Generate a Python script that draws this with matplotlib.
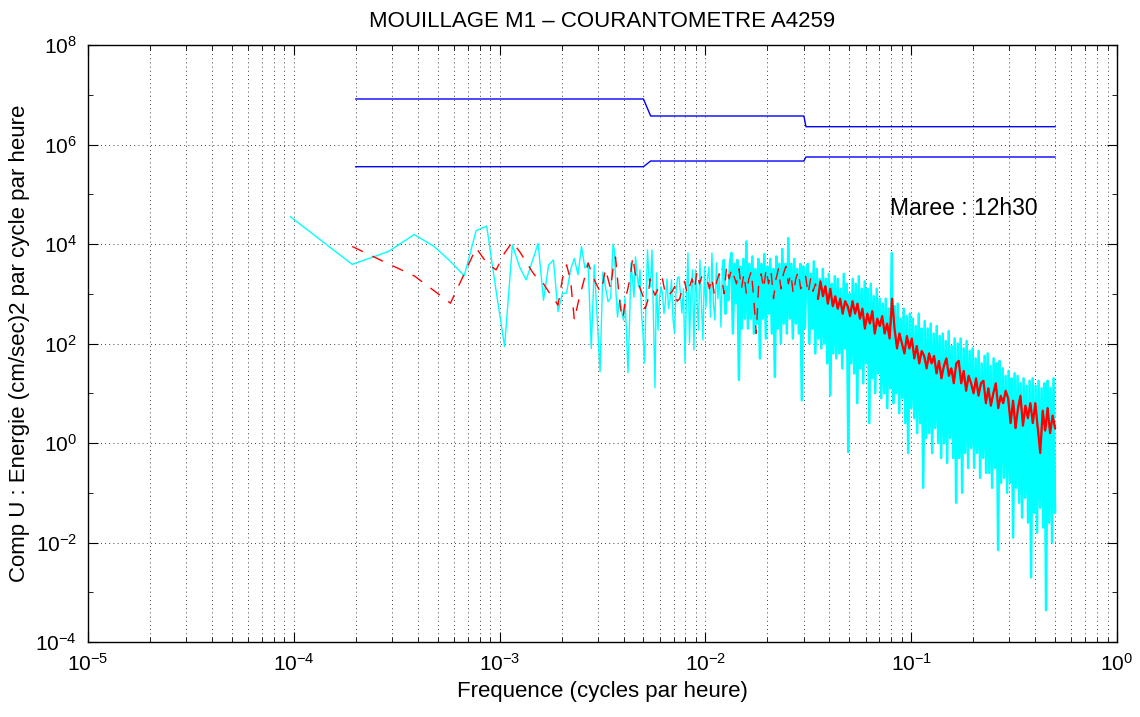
import numpy as np
import matplotlib
matplotlib.use("Agg")
import matplotlib.pyplot as plt
from matplotlib.ticker import LogLocator, FuncFormatter, NullFormatter

# ---------------- data (log10 of energy) ----------------
record_hours = 10400  # frequency step = 1 / record_hours (cycles per hour)

# raw spectrum, harmonics k = 1..36
cyan_low_log = [4.55, 3.59, 3.85, 4.19, 3.95, 3.65, 3.36, 4.27, 4.36, 3.06,
                1.94, 3.98, 3.54, 3.28, 3.66, 4.01, 2.87, 3.58, 3.68, 2.64,
                3.01, 3.01, 3.48, 3.71, 3.38, 3.95, 3.52, 3.61, 1.90, 3.58,
                2.50, 1.43, 3.44, 3.14, 2.84, 2.91]

# raw spectrum, from harmonic 37 up to 0.5 cph (log-spaced samples)
cyan_high_log = [
    4.0, 3.85, 3.0, 2.53, 2.8, 2.87, 2.6, 2.47, 2.93, 2.2,
    1.41, 2.4, 3.62, 3.3, 2.93, 3.74, 3.4, 3.14, 3.48, 2.61,
    2.2, 1.61, 2.8, 3.88, 3.3, 3.14, 3.88, 2.5, 1.11, 3.42,
    2.27, 2.9, 3.14, 3.0, 2.6, 2.87, 3.3, 2.7, 2.87, 3.28,
    2.5, 2.21, 3.0, 3.32, 3.34, 3.0, 2.61, 3.1, 1.61, 2.9,
    3.82, 2.01, 3.0, 3.48, 1.87, 3.48, 2.9, 2.27, 3.68, 2.81,
    2.07, 3.54, 2.73, 3.3, 3.54, 2.53, 3.82, 2.8, 2.47, 3.62,
    2.9, 3.4, 2.33, 3.5, 3.68, 2.6, 3.14, 2.87, 3.6, 3.82,
    2.2, 3.6, 2.81, 3.68, 1.27, 3.54, 2.3, 3.7, 2.5, 4.05,
    2.3, 3.6, 2.5, 3.75, 2.2, 3.5, 2.4, 3.7, 1.7, 3.6,
    2.5, 3.8, 2.1, 3.55, 2.6, 3.7, 2.2, 3.5, 1.33, 3.75,
    2.3, 3.6, 2.0, 3.9, 2.4, 3.6, 2.2, 4.12, 2.5, 3.6,
    2.1, 3.7, 2.4, 3.5, 2.2, 3.6, 0.86, 3.55, 2.3, 3.4,
    3.6, 2.0, 3.4, 2.3, 3.65, 1.8, 3.5, 2.1, 3.3, 1.9,
    3.5, 2.0, 3.3, 1.6, 3.4, 0.96, 3.2, 1.8, 3.35, 1.7,
    3.3, 1.8, 3.1, 1.5, 3.4, 1.9, 3.2, -0.18, 3.0, 1.6,
    3.3, 1.4, 3.2, 0.8, 3.35, 1.5, 3.1, 1.2, 3.25, 1.6,
    3.1, 0.4, 3.2, 1.3, 2.95, 1.0, 3.1, 1.4, 2.9, 0.9,
    2.8, 1.0, 2.9, 0.7, 2.7, 1.1, 3.82, 0.8, 2.75, 1.0,
    2.8, 0.6, 2.5, 0.9, 2.7, 0.4, 2.55, -0.2, 2.6, 0.7,
    2.5, 0.5, 2.35, 0.2, 2.6, 0.4, 2.3, -0.9, 2.45, 0.1,
    2.3, 0.2, 2.4, -0.2, 2.2, 0.3, 2.35, 0.0, 2.15, -0.3,
    2.2, 0.0, 2.05, -0.4, 2.25, 0.1, 1.95, -0.3, 2.1, -1.2,
    2.0, -0.3, 2.1, -1.0, 1.9, -0.2, 2.05, -0.5, 1.85, -0.1,
    1.9, -0.5, 1.7, -0.2, 1.85, -0.7, 1.6, -0.3, 1.75, -0.6,
    1.8, -0.6, 1.55, -0.9, 1.7, -0.5, 1.6, -2.15, 1.65, -0.8,
    1.5, -0.7, 1.35, -1.0, 1.45, -0.8, 1.3, -1.9, 1.4, -0.9,
    1.35, -1.2, 1.2, -1.5, 1.3, -1.1, 1.15, -1.6, 1.25, -2.7,
    1.3, -1.4, 1.15, -1.8, 1.25, -1.3, 1.1, -1.7, 1.2, -3.36,
    1.25, -1.6, 1.1, -2.0, 1.3, -1.4]

# smoothed spectrum, harmonics k = 2..36
red_low_log = [3.95, 3.60, 3.36, 3.06, 2.81, 3.40, 3.92, 3.62, 3.48, 3.82,
               4.04, 3.85, 3.64, 3.44, 3.28, 3.20, 3.04, 2.91, 2.77, 3.30,
               3.58, 3.28, 2.47, 2.81, 3.08, 3.34, 3.62, 3.45, 3.28, 3.16,
               3.04, 3.2, 3.5, 3.3, 3.1]

# smoothed spectrum, from harmonic 37 up to 0.5 cph (log-spaced samples)
red_high_log = [
    3.5, 3.74, 3.2, 2.7, 2.5, 2.9, 3.1, 3.35, 3.74, 3.4,
    3.28, 3.1, 2.97, 2.7, 2.85, 3.3, 3.1, 2.97, 3.08, 3.2,
    3.3, 3.05, 2.95, 3.0, 3.05, 3.15, 2.85, 2.9, 3.1, 3.25,
    3.0, 3.15, 3.3, 3.1, 3.45, 3.2, 3.35, 3.3, 3.32, 3.1,
    3.32, 3.0, 3.25, 3.4, 3.3, 3.0, 3.55, 3.3, 3.5, 3.35,
    3.2, 3.5, 3.1, 3.4, 3.0, 3.3, 3.45, 2.9, 2.2, 3.2,
    3.4, 3.1, 3.5, 3.2, 3.45, 2.9, 3.3, 3.5, 3.1, 3.4,
    3.55, 3.2, 3.4, 3.0, 3.3, 3.45, 3.1, 3.2, 3.35, 3.0,
    3.3, 3.05, 3.2, 2.9, 3.25, 2.95, 3.15, 2.8, 3.1, 2.75,
    2.95, 2.7, 2.9, 2.6, 2.85, 2.75, 2.55, 2.85, 2.6, 2.8,
    2.5, 2.7, 2.3, 2.6, 2.4, 2.65, 2.2, 2.5, 2.35, 2.55,
    2.2, 2.4, 2.1, 2.9, 2.3, 1.9, 2.2, 2.0, 1.8, 2.15,
    1.9, 2.1, 1.7, 1.95, 1.6, 1.85, 1.75, 1.5, 1.8, 1.6,
    1.75, 1.4, 1.65, 1.3, 1.55, 1.7, 1.35, 1.5, 1.2, 1.6,
    1.65, 1.2, 1.45, 1.05, 1.35, 1.2, 1.0, 1.3, 0.95, 1.2,
    1.25, 0.8, 1.1, 0.75, 1.0, 1.2, 0.7, 0.95, 0.8, 1.05,
    0.9, 0.4, 0.85, 0.3, 0.7, 0.95, 0.35, 0.75, 0.5, 0.8,
    0.4, 0.8, 0.3, -0.2, 0.65, 0.25, 0.7, 0.2, 0.55, 0.3]

# confidence interval bounds
ci_freq = [2e-4, 5.0e-3, 5.42e-3, 0.0301, 0.0308, 0.5]
ci_upper_log = [6.915, 6.915, 6.573, 6.573, 6.358, 6.358]
ci_lower_log = [5.554, 5.554, 5.668, 5.668, 5.749, 5.749]

title_text = "MOUILLAGE M1 \u2013 COURANTOMETRE A4259"
xlabel_text = "Frequence (cycles par heure)"
ylabel_text = "Comp U : Energie (cm/sec)2 par cycle par heure"
note_text = "Maree : 12h30"
note_freq = 0.0791
note_level_log = 4.72

# frequencies above which the spectra are drawn as a dense band
dense_cyan_from = 0.012
dense_red_from = 0.035

# ---------------- figure ----------------
plt.rcParams["font.family"] = ["Liberation Sans", "DejaVu Sans"]
plt.rcParams["mathtext.default"] = "regular"

fig = plt.figure(figsize=(11.4, 7.17), dpi=100)
ax = fig.add_axes([88 / 1140, 1 - 642 / 717, (1117 - 88) / 1140, (642 - 45) / 717])
ax.set_xscale("log")
ax.set_yscale("log")

f_cyan = np.concatenate([np.arange(1, 37) / record_hours,
                         np.geomspace(37 / record_hours, 0.5, len(cyan_high_log))])
v_cyan = 10.0 ** np.array(cyan_low_log + cyan_high_log)
f_red = np.concatenate([np.arange(2, 37) / record_hours,
                        np.geomspace(37 / record_hours, 0.5, len(red_high_log))])
v_red = 10.0 ** np.array(red_low_log + red_high_log)

cyan = (0, 1, 1)
ax.plot(f_cyan, v_cyan, color=cyan, lw=1.0, zorder=3)
mc = f_cyan >= dense_cyan_from
ax.plot(f_cyan[mc], v_cyan[mc], color=cyan, lw=1.8, zorder=3)

ax.plot(f_red, v_red, color=(1, 0, 0), lw=1.0, linestyle=(0, (8.5, 7.5)), zorder=4)
mr = f_red >= dense_red_from
ax.plot(f_red[mr], v_red[mr], color=(1, 0, 0), lw=1.6, zorder=4)

ax.plot(ci_freq, 10.0 ** np.array(ci_upper_log), color=(0, 0, 1), lw=1.0, zorder=5)
ax.plot(ci_freq, 10.0 ** np.array(ci_lower_log), color=(0, 0, 1), lw=1.0, zorder=5)

ax.set_xlim(1e-5, 1)
ax.set_ylim(1e-4, 1e8)

ax.xaxis.set_major_locator(LogLocator(base=10, numticks=20))
ax.xaxis.set_minor_locator(LogLocator(base=10, subs=np.arange(2, 10), numticks=20))
ax.yaxis.set_major_locator(LogLocator(base=100, numticks=20))
ax.yaxis.set_minor_locator(LogLocator(base=10, subs=[1.0], numticks=20))

fmt = FuncFormatter(lambda v, p: r"$10^{%d}$" % int(round(np.log10(v))))
ax.xaxis.set_major_formatter(fmt)
ax.yaxis.set_major_formatter(fmt)
ax.xaxis.set_minor_formatter(NullFormatter())
ax.yaxis.set_minor_formatter(NullFormatter())

ax.tick_params(which="both", direction="in", top=True, right=True, labelsize=15)
ax.tick_params(which="major", length=7, width=0.8)
ax.tick_params(which="minor", length=3.5, width=0.6)
ax.tick_params(axis="x", which="major", pad=8)
ax.tick_params(axis="y", which="major", pad=8)

grid_style = dict(color="k", linestyle=(0, (1, 4)), linewidth=0.6)
ax.grid(True, axis="x", which="both", **grid_style)
ax.grid(True, axis="y", which="major", **grid_style)
ax.set_axisbelow(True)
for s in ax.spines.values():
    s.set_linewidth(1.0)

ax.set_title(title_text, fontsize=16, pad=13)
ax.set_xlabel(xlabel_text, fontsize=16, labelpad=4)
ax.set_ylabel(ylabel_text, fontsize=16, labelpad=4)
ax.text(note_freq, 10 ** note_level_log, note_text, fontsize=16.5,
        ha="left", va="center", zorder=6)

fig.savefig("out.png", dpi=100)
